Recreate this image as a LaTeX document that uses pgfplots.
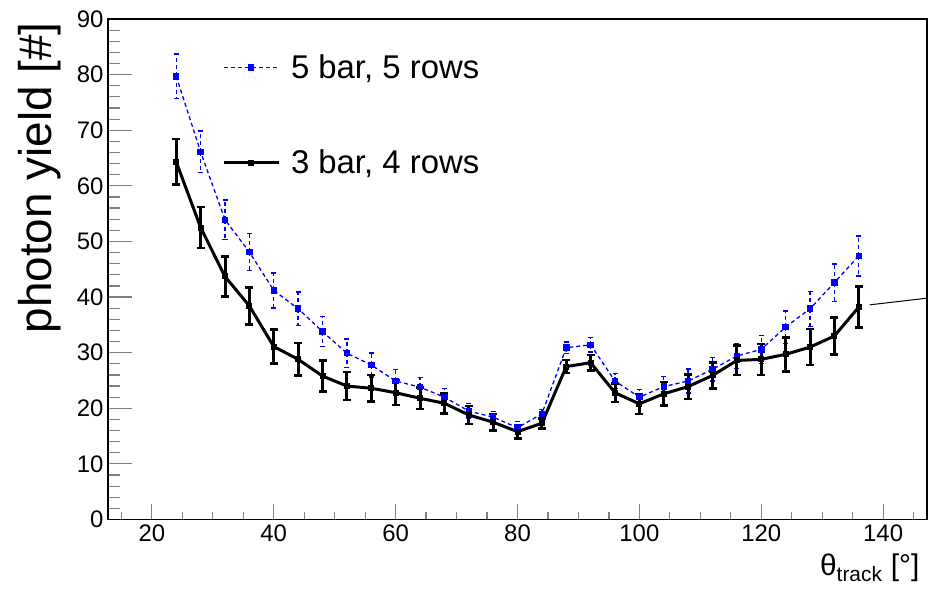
\documentclass[border=0pt]{standalone}
\usepackage{pgfplots}
\pgfplotsset{compat=1.18}
\usepackage{fontspec}
\setmainfont{Liberation Sans}
\definecolor{rblue}{RGB}{0,0,255}
\begin{document}
\begin{tikzpicture}
\useasboundingbox (-108bp,-70.5bp) rectangle (821bp,519.5bp);
\begin{axis}[
  scale only axis,
  width=819bp, height=500.5bp,
  xmin=12.8, xmax=147.2, ymin=0, ymax=90,
  axis line style={line width=1.5bp},
  tick align=inside,
  xtick pos=bottom, ytick pos=left,
  xtick={20,40,...,140},
  minor xtick={15,25,30,35,45,50,55,65,70,75,85,90,95,105,110,115,125,130,135,145},
  ytick={0,10,...,90},
  minor ytick={2,4,6,8,12,14,16,18,22,24,26,28,32,34,36,38,42,44,46,48,52,54,56,58,62,64,66,68,72,74,76,78,82,84,86,88},
  xtick style={line width=1.2bp,/pgfplots/major tick length=15bp,/pgfplots/minor tick length=7.5bp},
  ytick style={line width=1.2bp,/pgfplots/major tick length=24bp,/pgfplots/minor tick length=12bp},
  /pgf/number format/assume math mode=true,
  ticklabel style={font=\fontsize{24}{24}\selectfont},
  xticklabel style={yshift=-2bp},
  yticklabel style={xshift=-1bp},
  ylabel={photon yield [\#]},
  ylabel style={font=\fontsize{46}{46}\selectfont, at={(axis description cs:-0.083,1)}, anchor=east},
  xlabel={θ\textsubscript{track} [°]},
  xlabel style={font=\fontsize{30}{30}\selectfont, at={(axis description cs:0.995,-0.111)}, anchor=base east},
  legend cell align=left,
  legend style={draw=none, fill=none, at={(axis description cs:0.139,0.999)}, anchor=north west,
    inner sep=0pt, column sep=0pt, row sep=0pt,
    font=\fontsize{33}{33}\selectfont,
    nodes={minimum height=95.4bp, inner sep=11bp}},
  legend image code/.code={\draw[mark repeat=2,mark phase=2,#1] plot coordinates {(0bp,0bp) (27.5bp,0bp) (55bp,0bp)};},
  clip=false,
]
% 5 bar, 5 rows
\addplot[rblue, line width=1.3bp, dash pattern=on 4bp off 3bp,
  mark=square*, mark size=2.6bp, mark options={solid},
  error bars/.cd, y dir=both, y explicit,
  error bar style={rblue, line width=1.3bp, dash pattern=on 4bp off 3bp},
  error mark options={rblue, solid, line width=1.3bp, rotate=90, mark size=2.5bp}]
coordinates {
(24,79.7) +- (0,4.0)
(28,66.1) +- (0,3.75)
(32,53.9) +- (0,3.55)
(36,48.1) +- (0,3.3)
(40,41.2) +- (0,3.15)
(44,37.9) +- (0,3.0)
(48,33.8) +- (0,2.75)
(52,29.9) +- (0,2.55)
(56,27.8) +- (0,2.15)
(60,24.9) +- (0,2.1)
(64,23.8) +- (0,1.7)
(68,22.0) +- (0,1.5)
(72,19.5) +- (0,1.4)
(76,18.4) +- (0,1.0)
(80,16.5) +- (0,1.1)
(84,19.0) +- (0,0.8)
(88,30.9) +- (0,1.0)
(92,31.4) +- (0,1.3)
(96,24.9) +- (0,1.35)
(100,22.0) +- (0,1.35)
(104,23.9) +- (0,1.8)
(108,24.9) +- (0,2.15)
(112,27.0) +- (0,2.1)
(116,29.4) +- (0,2.2)
(120,30.6) +- (0,2.55)
(124,34.6) +- (0,2.9)
(128,37.9) +- (0,3.15)
(132,42.6) +- (0,3.35)
(136,47.4) +- (0,3.6)
};
\addlegendentry{5 bar, 5 rows}
% 3 bar, 4 rows
\addplot[black, line width=3bp,
  mark=square*, mark size=1.5bp,
  error bars/.cd, y dir=both, y explicit,
  error bar style={black, line width=3bp},
  error mark options={black, line width=2.5bp, rotate=90, mark size=4bp}]
coordinates {
(24,64.3) +- (0,4.1)
(28,52.5) +- (0,3.65)
(32,43.7) +- (0,3.6)
(36,38.4) +- (0,3.3)
(40,31.1) +- (0,3.05)
(44,28.8) +- (0,2.95)
(48,25.8) +- (0,2.75)
(52,24.0) +- (0,2.55)
(56,23.6) +- (0,2.4)
(60,22.8) +- (0,2.25)
(64,21.8) +- (0,1.9)
(68,20.9) +- (0,1.8)
(72,18.8) +- (0,1.6)
(76,17.5) +- (0,1.5)
(80,15.8) +- (0,1.2)
(84,17.3) +- (0,0.9)
(88,27.5) +- (0,1.2)
(92,28.2) +- (0,1.4)
(96,22.8) +- (0,1.7)
(100,20.8) +- (0,1.8)
(104,22.6) +- (0,2.1)
(108,23.9) +- (0,2.2)
(112,25.9) +- (0,2.35)
(116,28.6) +- (0,2.65)
(120,28.8) +- (0,2.8)
(124,29.7) +- (0,3.05)
(128,31.0) +- (0,3.25)
(132,33.0) +- (0,3.35)
(136,38.2) +- (0,3.7)
};
\addlegendentry{3 bar, 4 rows}
\draw[black, line width=1bp] (axis cs:137.8,38.6) -- (axis cs:147.2,39.8);
\end{axis}
\end{tikzpicture}
\end{document}
